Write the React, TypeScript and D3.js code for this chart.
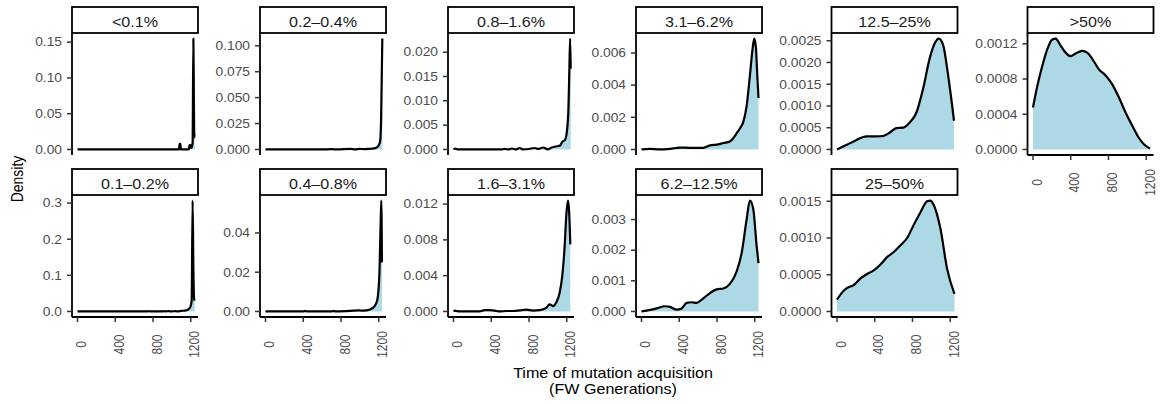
import React from "react";
import * as d3 from "d3";

// ---------- data ----------
const categories = [
  "<0.1%", "0.1–0.2%", "0.2–0.4%", "0.4–0.8%", "0.8–1.6%", "1.6–3.1%",
  "3.1–6.2%", "6.2–12.5%", "12.5–25%", "25–50%", ">50%",
];

const densLt01: [number, number][] = [
  [0, 0], [300, 0], [600, 0], [900, 0], [1075, 0], [1082, 0.008], [1090, 0.008], [1096, 0],
  [1180, 0], [1186, 0.006], [1196, 0.006], [1203, 0.002], [1212, 0.004], [1220, 0.01],
  [1228, 0.155], [1234, 0.06], [1238, 0.017], [1242, 0.02],
];
const dens01_02: [number, number][] = [
  [0, 0], [740, 0], [755, 0.001], [770, 0], [900, 0], [915, 0.001], [930, 0], [960, 0.001],
  [990, 0], [1040, 0.001], [1060, 0], [1100, 0.0015], [1150, 0.003], [1175, 0.006],
  [1195, 0.012], [1210, 0.03], [1220, 0.307], [1228, 0.12], [1236, 0.035], [1242, 0.03],
];
const dens02_04: [number, number][] = [
  [0, 0], [600, 0], [700, 0.0003], [760, 0], [900, 0.0005], [950, 0], [1000, 0.0006],
  [1050, 0.0003], [1100, 0.0006], [1150, 0.001], [1180, 0.002], [1200, 0.004], [1215, 0.008],
  [1225, 0.03], [1232, 0.07], [1238, 0.107],
];
const dens04_08: [number, number][] = [
  [0, 0], [400, 0], [420, 0.0003], [440, 0], [700, 0], [720, 0.0003], [740, 0], [900, 0.0003],
  [1000, 0.0005], [1036, 0.0004], [1107, 0.001], [1160, 0.003], [1185, 0.006], [1206, 0.018],
  [1220, 0.044], [1227, 0.0565], [1234, 0.025],
];
const dens08_16: [number, number][] = [
  [0, 0], [20, 0.0002], [40, 0], [500, 0], [545, 0.0001], [580, 0], [620, 0.0002], [660, 0],
  [700, 0.0003], [740, 0], [800, 0.0001], [860, 0.0003], [900, 0.0001], [950, 0.0004],
  [1000, 0], [1040, 0.0004], [1080, 0.0006], [1130, 0.0008], [1150, 0.0015], [1183, 0.002],
  [1201, 0.0036], [1218, 0.0084], [1228, 0.0166], [1236, 0.0228], [1242, 0.0166],
];
const dens16_31: [number, number][] = [
  [0, 0.0001], [101, 0], [277, 0], [330, 0.00015], [383, 0.00015], [436, 0.0001], [489, 0],
  [560, 0.00005], [630, 0.00005], [701, 0.00012], [771, 0.0002], [842, 0.0001], [913, 0.00015],
  [983, 0.0004], [1019, 0.0008], [1054, 0.0006], [1089, 0.001], [1125, 0.0021],
  [1153, 0.004], [1178, 0.0073], [1195, 0.0107], [1213, 0.0124], [1224, 0.0114], [1238, 0.0075],
];
const dens31_62: [number, number][] = [
  [0, 0], [90, 0.00004], [196, 0], [302, 0.00004], [408, 0.00012], [514, 0.0001],
  [655, 0.0001], [726, 0.00025], [796, 0.0003], [867, 0.0004], [937, 0.0005], [972, 0.0007],
  [1008, 0.001], [1043, 0.0013], [1078, 0.0017], [1114, 0.0027], [1149, 0.0046],
  [1178, 0.0063], [1195, 0.0069], [1213, 0.0063], [1227, 0.0046], [1240, 0.0032],
];
const dens62_125: [number, number][] = [
  [0, 0], [90, 0.00005], [161, 0.0001], [249, 0.00017], [302, 0.00015], [373, 0.00006],
  [426, 0.0001], [478, 0.00028], [531, 0.0003], [584, 0.00028], [655, 0.00043], [726, 0.0006],
  [796, 0.00072], [867, 0.00075], [937, 0.0009], [1008, 0.0013], [1061, 0.0019],
  [1114, 0.003], [1149, 0.00362], [1184, 0.00335], [1220, 0.00215], [1240, 0.00158],
];
const dens125_25: [number, number][] = [
  [0, 0], [100, 0.0001], [207, 0.00022], [312, 0.0003], [418, 0.0003], [489, 0.00031],
  [560, 0.00039], [630, 0.00049], [701, 0.0005], [771, 0.00062], [842, 0.00085],
  [913, 0.0014], [983, 0.0021], [1036, 0.00244], [1079, 0.00255], [1125, 0.0024],
  [1178, 0.0017], [1240, 0.00066],
];
const dens25_50: [number, number][] = [
  [0, 0.00016], [55, 0.00026], [108, 0.00032], [178, 0.00036], [249, 0.00045], [320, 0.00051],
  [390, 0.00056], [461, 0.00064], [531, 0.00074], [602, 0.00081], [673, 0.0009], [743, 0.001],
  [814, 0.00118], [885, 0.00135], [955, 0.0015], [990, 0.00151], [1025, 0.00145],
  [1096, 0.00113], [1167, 0.00058], [1245, 0.00024],
];
const densGt50: [number, number][] = [
  [0, 0.000476], [46, 0.00072], [99, 0.00095], [152, 0.00114], [205, 0.00125], [240, 0.00126],
  [293, 0.00118], [346, 0.0011], [399, 0.00106], [452, 0.00109], [522, 0.00112], [575, 0.0011],
  [628, 0.00103], [699, 0.00091], [770, 0.00084], [840, 0.00074], [911, 0.00059],
  [981, 0.00042], [1052, 0.00027], [1123, 0.00013], [1175, 0.00006], [1240, 0.00001],
];

const densities = [
  densLt01, dens01_02, dens02_04, dens04_08, dens08_16, dens16_31,
  dens31_62, dens62_125, dens125_25, dens25_50, densGt50,
];

const yTickLabels: string[][] = [
  ["0.00", "0.05", "0.10", "0.15"],
  ["0.0", "0.1", "0.2", "0.3"],
  ["0.000", "0.025", "0.050", "0.075", "0.100"],
  ["0.00", "0.02", "0.04"],
  ["0.000", "0.005", "0.010", "0.015", "0.020"],
  ["0.000", "0.004", "0.008", "0.012"],
  ["0.000", "0.002", "0.004", "0.006"],
  ["0.000", "0.001", "0.002", "0.003"],
  ["0.0000", "0.0005", "0.0010", "0.0015", "0.0020", "0.0025"],
  ["0.0000", "0.0005", "0.0010", "0.0015"],
  ["0.0000", "0.0004", "0.0008", "0.0012"],
];

const xTicks = [0, 400, 800, 1200];
const xDomain = [-58, 1277];

// ---------- layout ----------
const W = 1160;
const H = 405;
const colLeft = [72, 260, 448, 636, 831.5, 1027.5];
const PW = 126;
const stripTop = [7, 169];
const STRIP_H = 26;
const PH = 122;
const SX = 1.15;
const FONT = "'Liberation Sans', Arial, Helvetica, sans-serif";

function T(props: {
  x: number; y: number; children: React.ReactNode; anchor?: string; size?: number;
  fill?: string; rot?: number; dy?: string;
}) {
  const { x, y, children, anchor = "middle", size = 12, fill = "#4D4D4D", rot = 0, dy } = props;
  return (
    <text
      transform={`translate(${x},${y}) scale(${SX},1)${rot ? ` rotate(${rot})` : ""}`}
      textAnchor={anchor}
      fontSize={size}
      fill={fill}
      dy={dy}
      fontFamily={FONT}
    >
      {children}
    </text>
  );
}

function Panel({ i }: { i: number }) {
  const col = Math.floor(i / 2);
  const row = i === 10 ? 0 : i % 2;
  const data = densities[i];
  const left = colLeft[col];
  const sTop = stripTop[row];
  const top = sTop + STRIP_H;
  const bottom = top + PH;
  const hasXAxis = row === 1 || i === 10;

  const x = d3.scaleLinear().domain(xDomain).range([left, left + PW]);
  const ymax = d3.max(data, (d) => d[1]) as number;
  const y = d3.scaleLinear().domain([-0.05 * ymax, 1.05 * ymax]).range([bottom, top]);

  const area = d3
    .area<[number, number]>()
    .x((d) => x(d[0]))
    .y0(y(0))
    .y1((d) => y(d[1]))
    .curve(d3.curveMonotoneX);
  const line = d3
    .line<[number, number]>()
    .x((d) => x(d[0]))
    .y((d) => y(d[1]))
    .curve(d3.curveMonotoneX);

  return (
    <g>
      <path d={area(data) || ""} fill="#ADD8E6" />
      <path d={line(data) || ""} fill="none" stroke="#000" strokeWidth={2.2} strokeLinejoin="round" />
      {/* y axis */}
      <line x1={left} x2={left} y1={top} y2={bottom} stroke="#000" strokeWidth={1.8} />
      {yTickLabels[i].map((lab) => {
        const v = +lab;
        const yy = y(v);
        return (
          <g key={lab}>
            <line x1={left - 5} x2={left} y1={yy} y2={yy} stroke="#333" strokeWidth={1.5} />
            <T x={left - 10} y={yy} anchor="end" dy="0.36em">{lab}</T>
          </g>
        );
      })}
      {hasXAxis && (
        <g>
          <line x1={left} x2={left + PW} y1={bottom} y2={bottom} stroke="#000" strokeWidth={1.8} />
          {xTicks.map((t) => (
            <g key={t}>
              <line x1={x(t)} x2={x(t)} y1={bottom} y2={bottom + 5} stroke="#333" strokeWidth={1.5} />
              <T x={x(t) + 8.6} y={bottom + 27.5} rot={-90}>{String(t)}</T>
            </g>
          ))}
        </g>
      )}
      {/* strip */}
      <rect x={left} y={sTop} width={PW} height={STRIP_H} fill="#fff" stroke="#000" strokeWidth={1.8} />
      <T x={left + PW / 2} y={sTop + 20} size={14} fill="#1A1A1A">{categories[i]}</T>
    </g>
  );
}

export default function App() {
  return (
    <svg
      width={W}
      height={H}
      viewBox={`0 0 ${W} ${H}`}
      style={{ position: "absolute", left: 0, top: 0, background: "#fff" }}
    >
      <rect x={0} y={0} width={W} height={H} fill="#fff" />
      {categories.map((c, i) => (
        <Panel key={c} i={i} />
      ))}
      <T x={23.3} y={179} rot={-90} size={14} fill="#000">Density</T>
      <T x={613} y={378} size={14} fill="#000">Time of mutation acquisition</T>
      <T x={613} y={394} size={14} fill="#000">(FW Generations)</T>
    </svg>
  );
}
